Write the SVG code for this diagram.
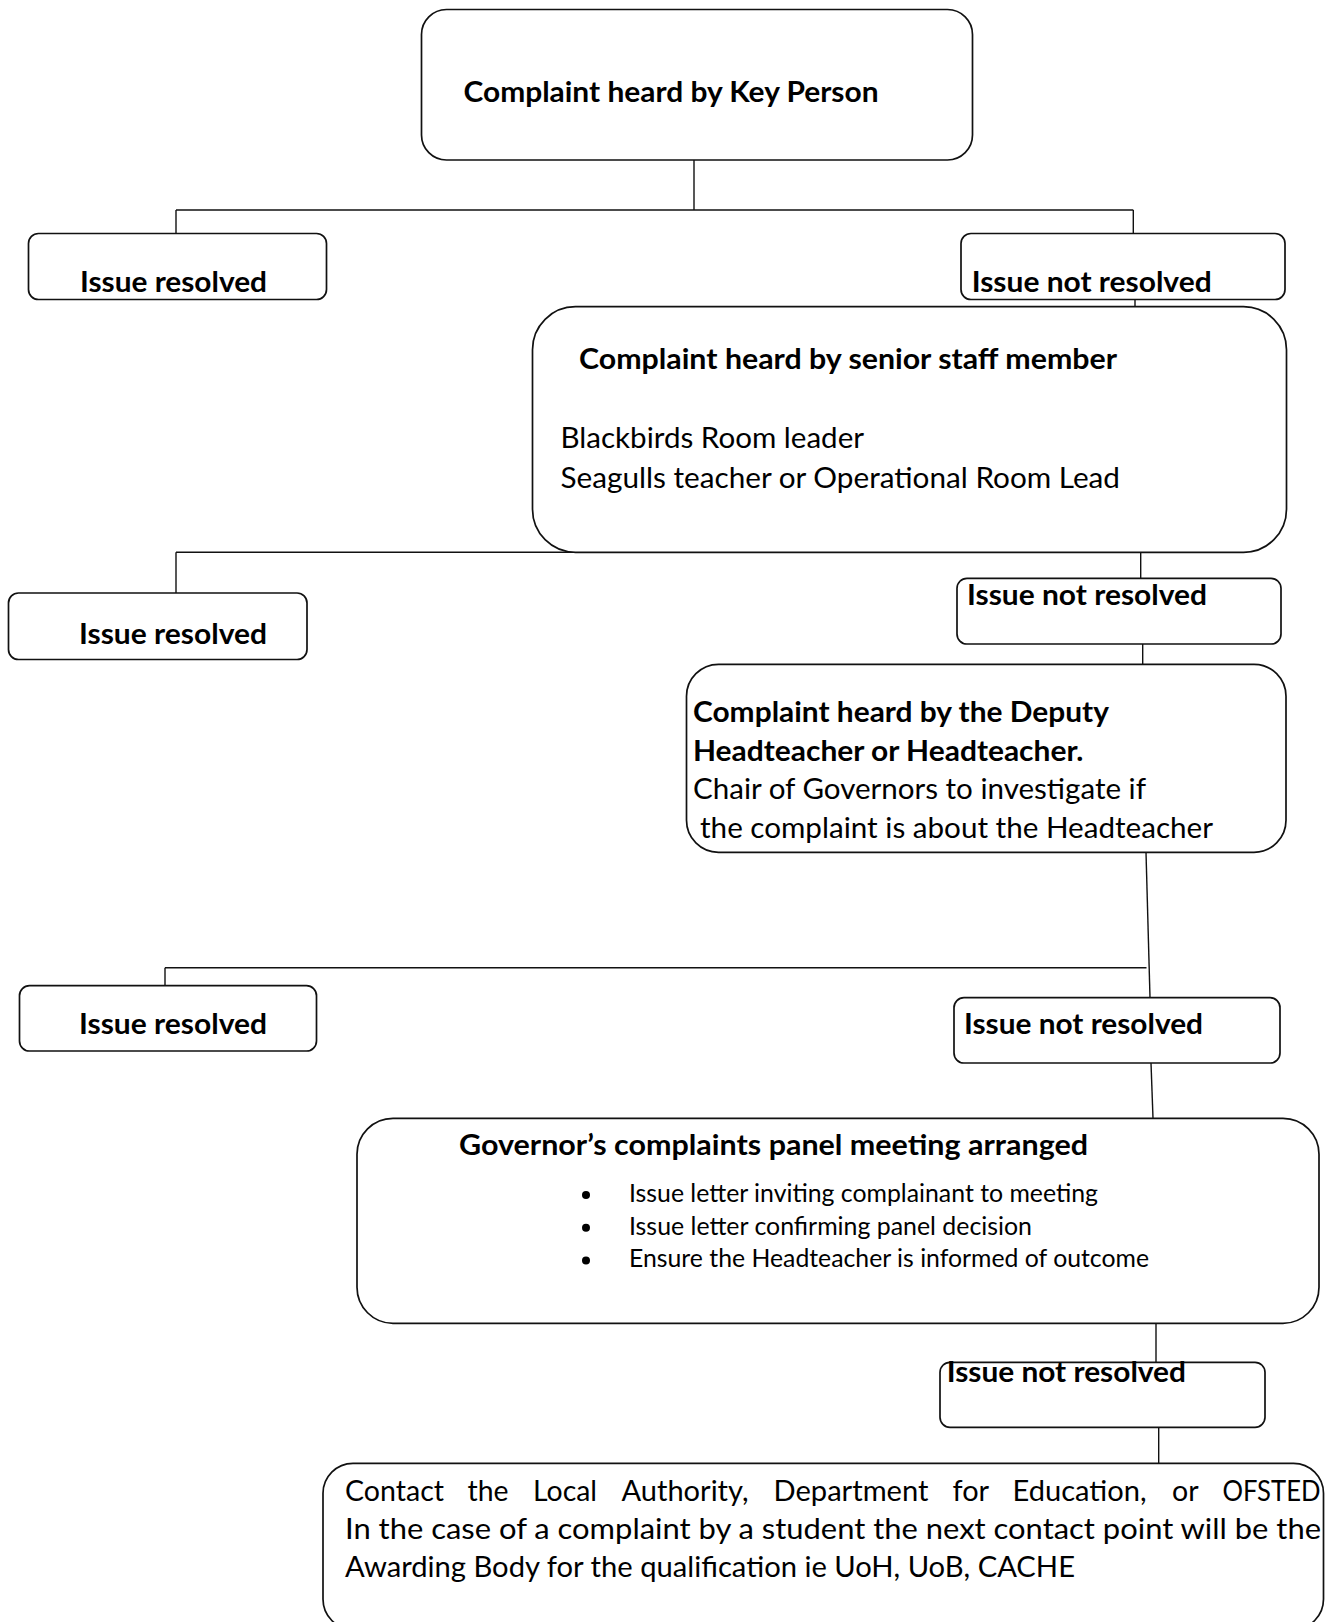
<svg xmlns="http://www.w3.org/2000/svg" width="1337" height="1622" viewBox="0 0 1337 1622">
  <style>
    .box { fill: #ffffff; stroke: #111111; stroke-width: 1.7; }
    .con { fill: none; stroke: #111111; stroke-width: 1.4; }
    .b { font-family: Lato, "Liberation Sans", "DejaVu Sans", sans-serif; font-weight: bold; font-size: 28.3px; fill: #000000; }
    .r { font-family: Lato, "Liberation Sans", "DejaVu Sans", sans-serif; font-size: 28.3px; fill: #000000; }
    .s { font-family: Lato, "Liberation Sans", "DejaVu Sans", sans-serif; font-size: 25px; fill: #000000; }
    .dot { fill: #000000; }
  </style>
  <rect x="0" y="0" width="1337" height="1622" fill="#ffffff"/>

  <g id="connectors">
    <path class="con" d="M694,160 V210"/>
    <path class="con" d="M176,210 H1133.3"/>
    <path class="con" d="M176,210 V233.5"/>
    <path class="con" d="M1133.3,210 V233.5"/>
    <path class="con" d="M1135,299.5 V306.7"/>
    <path class="con" d="M176,552.3 H1141"/>
    <path class="con" d="M176,552.3 V593"/>
    <path class="con" d="M1140.7,552.3 V578.3"/>
    <path class="con" d="M1142.7,644 V664.3"/>
    <path class="con" d="M1146,852.3 L1150,997.7"/>
    <path class="con" d="M165,967.7 H1146.5"/>
    <path class="con" d="M165,967.7 V985.7"/>
    <path class="con" d="M1151,1063 L1153,1118.3"/>
    <path class="con" d="M1156,1323.3 V1362.3"/>
    <path class="con" d="M1158.7,1427.3 V1463.3"/>
  </g>

  <g id="node-key-person">
    <rect class="box" x="421.5" y="9.5" width="551" height="150.5" rx="25"/>
    <text class="b" x="463.5" y="101.5" textLength="415" lengthAdjust="spacingAndGlyphs">Complaint heard by Key Person</text>
  </g>

  <g id="node-resolved-1">
    <rect class="box" x="28.5" y="233.5" width="298" height="66" rx="10"/>
    <text class="b" x="80" y="292" textLength="187" lengthAdjust="spacingAndGlyphs">Issue resolved</text>
  </g>

  <g id="node-not-resolved-1">
    <rect class="box" x="961" y="233.5" width="324" height="66" rx="10"/>
    <text class="b" x="971.7" y="292" textLength="240" lengthAdjust="spacingAndGlyphs">Issue not resolved</text>
  </g>

  <g id="node-senior-staff">
    <rect class="box" x="532.5" y="306.7" width="754" height="245.6" rx="43"/>
    <text class="b" x="579" y="369" textLength="538" lengthAdjust="spacingAndGlyphs">Complaint heard by senior staff member</text>
    <text class="r" x="560.5" y="447.5" textLength="303.5" lengthAdjust="spacingAndGlyphs">Blackbirds Room leader</text>
    <text class="r" x="560.5" y="487.5" textLength="559.5" lengthAdjust="spacingAndGlyphs">Seagulls teacher or Operational Room Lead</text>
  </g>

  <g id="node-resolved-2">
    <rect class="box" x="8.5" y="593" width="298.5" height="66.5" rx="10"/>
    <text class="b" x="79" y="644" textLength="188" lengthAdjust="spacingAndGlyphs">Issue resolved</text>
  </g>

  <g id="node-not-resolved-2">
    <rect class="box" x="957" y="578.3" width="324" height="65.7" rx="10"/>
    <text class="b" x="967" y="604.5" textLength="240" lengthAdjust="spacingAndGlyphs">Issue not resolved</text>
  </g>

  <g id="node-deputy">
    <rect class="box" x="686.5" y="664.3" width="599.5" height="188" rx="32"/>
    <text class="b" x="693" y="722.2" textLength="416" lengthAdjust="spacingAndGlyphs">Complaint heard by the Deputy</text>
    <text class="b" x="693" y="760.5" textLength="390.5" lengthAdjust="spacingAndGlyphs">Headteacher or Headteacher.</text>
    <text class="r" x="693" y="798.5" textLength="453" lengthAdjust="spacingAndGlyphs">Chair of Governors to investigate if</text>
    <text class="r" x="700" y="837.5" textLength="513" lengthAdjust="spacingAndGlyphs">the complaint is about the Headteacher</text>
  </g>

  <g id="node-resolved-3">
    <rect class="box" x="19.5" y="985.7" width="297" height="65.3" rx="10"/>
    <text class="b" x="79" y="1034" textLength="188" lengthAdjust="spacingAndGlyphs">Issue resolved</text>
  </g>

  <g id="node-not-resolved-3">
    <rect class="box" x="954" y="997.7" width="326" height="65.3" rx="10"/>
    <text class="b" x="964" y="1034" textLength="239" lengthAdjust="spacingAndGlyphs">Issue not resolved</text>
  </g>

  <g id="node-governor-panel">
    <rect class="box" x="357" y="1118.3" width="962" height="205" rx="36"/>
    <text class="b" x="459" y="1154.5" textLength="629" lengthAdjust="spacingAndGlyphs">Governor’s complaints panel meeting arranged</text>
    <circle class="dot" cx="586" cy="1195" r="4"/>
    <circle class="dot" cx="586" cy="1227.7" r="4"/>
    <circle class="dot" cx="586" cy="1260.5" r="4"/>
    <text class="s" x="629" y="1202" textLength="469" lengthAdjust="spacingAndGlyphs">Issue letter inviting complainant to meeting</text>
    <text class="s" x="629" y="1234.5" textLength="403" lengthAdjust="spacingAndGlyphs">Issue letter confirming panel decision</text>
    <text class="s" x="629" y="1267" textLength="520" lengthAdjust="spacingAndGlyphs">Ensure the Headteacher is informed of outcome</text>
  </g>

  <g id="node-not-resolved-4">
    <rect class="box" x="940" y="1362.3" width="325" height="65" rx="10"/>
    <text class="b" x="946.7" y="1382.2" textLength="239.3" lengthAdjust="spacingAndGlyphs">Issue not resolved</text>
  </g>

  <g id="node-contact">
    <rect class="box" x="323" y="1463.3" width="1000.5" height="166" rx="30"/>
    <text class="r" y="1500.5"><tspan x="345" textLength="99" lengthAdjust="spacingAndGlyphs">Contact</tspan> <tspan x="467.5" textLength="41" lengthAdjust="spacingAndGlyphs">the</tspan> <tspan x="533" textLength="64" lengthAdjust="spacingAndGlyphs">Local</tspan> <tspan x="621.5" textLength="127" lengthAdjust="spacingAndGlyphs">Authority,</tspan> <tspan x="773.5" textLength="155" lengthAdjust="spacingAndGlyphs">Department</tspan> <tspan x="952.5" textLength="36" lengthAdjust="spacingAndGlyphs">for</tspan> <tspan x="1012.5" textLength="134" lengthAdjust="spacingAndGlyphs">Education,</tspan> <tspan x="1172" textLength="26" lengthAdjust="spacingAndGlyphs">or</tspan> <tspan x="1222.5" textLength="98" lengthAdjust="spacingAndGlyphs">OFSTED</tspan></text>
    <text class="r" x="345" y="1538.8" textLength="976" lengthAdjust="spacingAndGlyphs">In the case of a complaint by a student the next contact point will be the</text>
    <text class="r" x="345" y="1577.2" textLength="730" lengthAdjust="spacingAndGlyphs">Awarding Body for the qualification ie UoH, UoB, CACHE</text>
  </g>
</svg>
